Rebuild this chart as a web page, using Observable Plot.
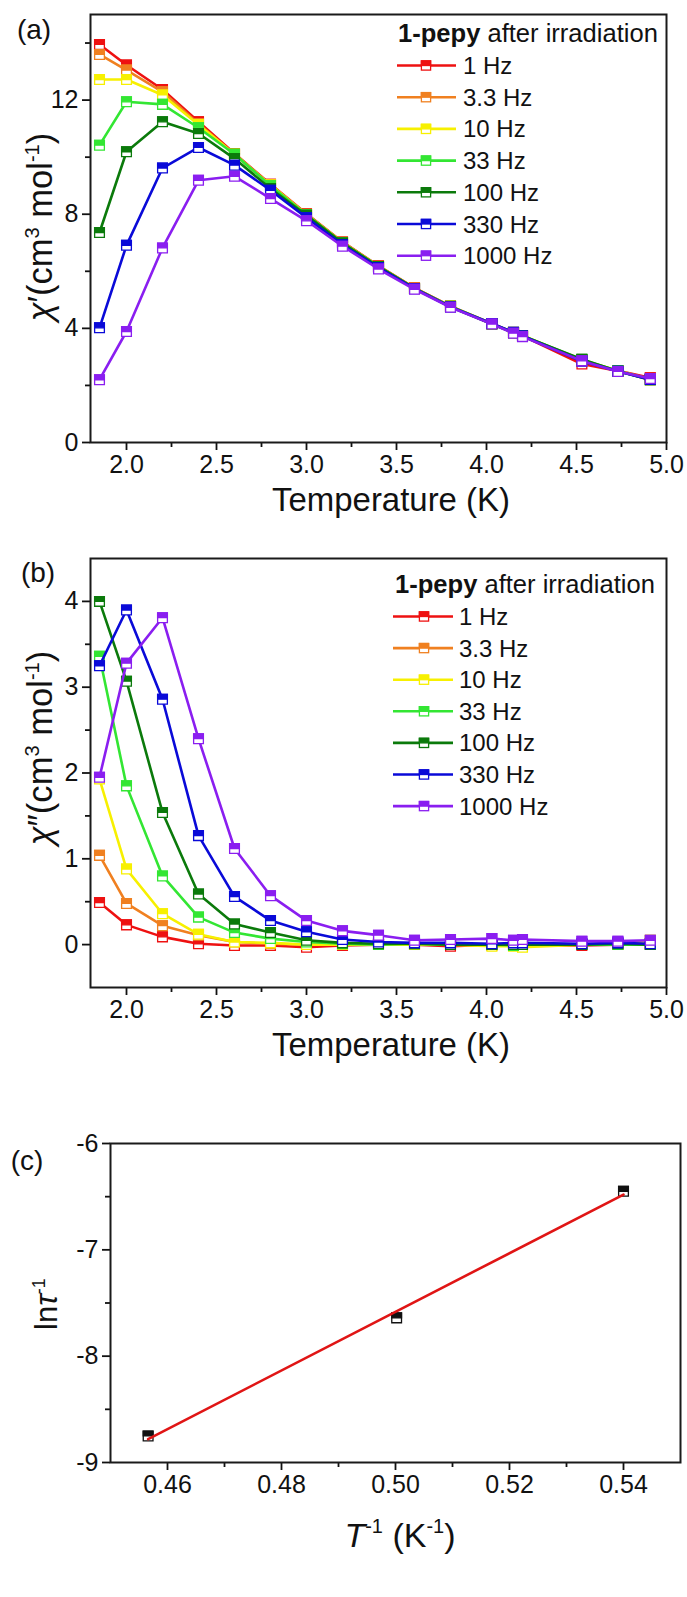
<!DOCTYPE html>
<html><head><meta charset="utf-8">
<script src="https://cdn.jsdelivr.net/npm/d3@7"></script>
<script src="https://cdn.jsdelivr.net/npm/@observablehq/plot@0.6"></script>
<style>
body{margin:0;background:#fff;}
#fig{position:relative;width:687px;height:1597px;background:#fff;overflow:hidden;}
#fig svg{position:absolute;left:0;overflow:visible;}
</style></head><body><div id="fig"></div>
<script>
// ---------------- data ----------------
const temperatures = [1.85, 2.0, 2.2, 2.4, 2.6, 2.8, 3.0, 3.2, 3.4, 3.6, 3.8, 4.03, 4.15, 4.2, 4.53, 4.73, 4.91];
const frequencies = ["1 Hz", "3.3 Hz", "10 Hz", "33 Hz", "100 Hz", "330 Hz", "1000 Hz"];
const seriesColors = ["#ee1111", "#f08020", "#f7f000", "#33e633", "#0b7a0b", "#0a0ad8", "#8a1ef0"];

// chi' (cm3 mol-1)
const chiP_1Hz    = [13.95, 13.23, 12.37, 11.24, 10.13, 9.05, 8.02, 7.03, 6.19, 5.42, 4.78, 4.16, 3.85, 3.74, 2.75, 2.51, 2.27];
const chiP_3_3Hz  = [13.60, 13.05, 12.29, 11.17, 10.10, 9.03, 8.00, 7.02, 6.18, 5.41, 4.77, 4.16, 3.85, 3.74, 2.87, 2.51, 2.22];
const chiP_10Hz   = [12.72, 12.72, 12.18, 11.14, 10.10, 9.02, 7.99, 7.01, 6.17, 5.40, 4.77, 4.16, 3.86, 3.75, 2.88, 2.52, 2.18];
const chiP_33Hz   = [10.42, 11.94, 11.85, 11.03, 10.10, 9.00, 7.98, 7.00, 6.17, 5.40, 4.77, 4.16, 3.85, 3.74, 2.90, 2.51, 2.20];
const chiP_100Hz  = [7.36, 10.19, 11.24, 10.83, 9.95, 8.90, 7.96, 6.99, 6.16, 5.40, 4.76, 4.15, 3.85, 3.73, 2.92, 2.50, 2.21];
const chiP_330Hz  = [4.02, 6.91, 9.62, 10.34, 9.72, 8.84, 7.88, 6.93, 6.13, 5.39, 4.75, 4.17, 3.86, 3.73, 2.85, 2.50, 2.20];
const chiP_1000Hz = [2.20, 3.89, 6.82, 9.19, 9.33, 8.55, 7.77, 6.88, 6.08, 5.37, 4.74, 4.15, 3.83, 3.71, 2.86, 2.49, 2.24];

// chi'' (cm3 mol-1)
const chiPP_1Hz    = [0.49, 0.23, 0.09, 0.01, -0.01, -0.01, -0.03, -0.01, 0.00, 0.00, -0.02, 0.00, -0.01, -0.01, -0.01, 0.00, 0.00];
const chiPP_3_3Hz  = [1.04, 0.48, 0.22, 0.11, 0.03, 0.01, 0.00, 0.00, 0.00, 0.00, 0.00, -0.01, 0.00, 0.00, 0.00, 0.00, 0.01];
const chiPP_10Hz   = [1.93, 0.88, 0.36, 0.12, 0.03, 0.02, 0.00, 0.00, 0.00, 0.00, 0.00, -0.02, -0.02, -0.03, 0.00, 0.00, 0.05];
const chiPP_33Hz   = [3.36, 1.85, 0.80, 0.32, 0.14, 0.07, 0.03, 0.01, 0.00, 0.01, 0.00, 0.00, -0.01, 0.00, 0.00, 0.00, 0.00];
const chiPP_100Hz  = [4.00, 3.07, 1.54, 0.59, 0.24, 0.14, 0.05, 0.02, 0.01, 0.01, 0.00, 0.00, 0.00, 0.00, 0.00, 0.01, 0.00];
const chiPP_330Hz  = [3.25, 3.90, 2.86, 1.27, 0.56, 0.28, 0.15, 0.06, 0.03, 0.02, 0.02, 0.01, 0.02, 0.02, 0.01, 0.02, 0.01];
const chiPP_1000Hz = [1.95, 3.28, 3.81, 2.40, 1.12, 0.57, 0.28, 0.16, 0.11, 0.05, 0.06, 0.07, 0.05, 0.06, 0.04, 0.04, 0.05];

// ln(tau^-1) vs 1/T
const invT = [0.4566, 0.5002, 0.5400];
const lnTauInv = [-8.75, -7.64, -6.45];
const fitInvT = [0.4566, 0.5400];
const fitLnTauInv = [-8.78, -6.48];

// ticks
const xTicksT = [2.0, 2.5, 3.0, 3.5, 4.0, 4.5, 5.0];
const xMinorT = [2.25, 2.75, 3.25, 3.75, 4.25, 4.75];
const yTicksA = [0, 4, 8, 12];
const yMinorA = [2, 6, 10, 14];
const yTicksB = [0, 1, 2, 3, 4];
const yMinorB = [0.5, 1.5, 2.5, 3.5];
const xTicksC = [0.46, 0.48, 0.50, 0.52, 0.54];
const xMinorC = [0.47, 0.49, 0.51, 0.53];
const yTicksC = [-6, -7, -8, -9];
const yMinorC = [-6.5, -7.5, -8.5];

const chiPSeries = [chiP_1Hz, chiP_3_3Hz, chiP_10Hz, chiP_33Hz, chiP_100Hz, chiP_330Hz, chiP_1000Hz];
const chiPPSeries = [chiPP_1Hz, chiPP_3_3Hz, chiPP_10Hz, chiPP_33Hz, chiPP_100Hz, chiPP_330Hz, chiPP_1000Hz];

// ---------------- helpers ----------------
const FONT = "'Liberation Sans', Arial, Helvetica, sans-serif";
const TICK_FS = 25;
const squareTopHalf = {draw(ctx, size) {
  const w = Math.sqrt(size), h = w / 2;
  ctx.moveTo(-h, -h); ctx.lineTo(h, -h); ctx.lineTo(h, 0); ctx.lineTo(-h, 0); ctx.closePath();
}};

function seriesMarks(xs, ys, color, r = 5.5) {
  const data = xs.map((x, i) => ({x, y: ys[i]}));
  return [
    Plot.line(data, {x: "x", y: "y", stroke: color, strokeWidth: 2.6}),
    Plot.dot(data, {x: "x", y: "y", symbol: "square", r, fill: "white", stroke: color, strokeWidth: 1.3}),
    Plot.dot(data, {x: "x", y: "y", symbol: squareTopHalf, r, fill: color, stroke: color, strokeWidth: 1.3})
  ];
}

function axes(o) {
  const common = {label: null, stroke: "#111", strokeWidth: 1.8, fontSize: TICK_FS, fill: "#111"};
  return [
    Plot.axisX({...common, ticks: o.xTicks, tickSize: 8, tickPadding: 5, tickFormat: o.xFmt}),
    Plot.axisX({...common, ticks: o.xMinor, tickSize: 5, tickFormat: () => ""}),
    Plot.axisY({...common, ticks: o.yTicks, tickSize: 8, tickPadding: 4, tickFormat: o.yFmt}),
    Plot.axisY({...common, ticks: o.yMinor, tickSize: 5, tickFormat: () => ""})
  ];
}

function panel(o) {
  const svg = Plot.plot({
    width: 687, height: o.height,
    marginTop: o.mt, marginBottom: o.mb, marginLeft: o.ml, marginRight: o.mr,
    x: {domain: o.xDomain}, y: {domain: o.yDomain},
    style: {fontFamily: FONT, fontSize: TICK_FS + "px", color: "#111", background: "transparent", overflow: "visible"},
    marks: [...axes(o), ...o.marks, Plot.frame({stroke: "#1a1a1a", strokeWidth: 2})]
  });
  svg.style.top = o.top + "px";
  document.getElementById("fig").appendChild(svg);
  return d3.select(svg);
}

function addText(sel, x, y, html, attrs = {}) {
  const t = sel.append("text").attr("x", x).attr("y", y)
    .attr("font-family", FONT).attr("fill", "#111").attr("text-anchor", "start");
  for (const k in attrs) t.attr(k, attrs[k]);
  t.html(html);
  return t;
}

// centred title whose overall length is fitted to the length measured on the reference
function addTitle(sel, cx, cy, html, fontSize, targetLen, rotate) {
  const t = sel.append("text").attr("x", 0).attr("y", 0)
    .attr("font-family", FONT).attr("fill", "#111").attr("text-anchor", "middle")
    .attr("font-size", fontSize).html(html);
  const w = t.node().getBBox().width;
  const k = w > 0 ? targetLen / w : 1;
  t.attr("transform", `translate(${cx},${cy})${rotate ? " rotate(-90)" : ""} scale(${k})`);
  return t;
}

function addLegend(sel, L) {
  const t = addText(sel, L.titleX, L.titleY,
    '<tspan font-weight="bold">1-pepy</tspan> after irradiation', {"font-size": 25});
  const w = t.node().getBBox().width;
  if (w > 0) t.attr("font-size", 25 * 260 / w);
  frequencies.forEach((f, i) => {
    const yb = L.rowY + i * L.step, ym = yb - 8.5, c = seriesColors[i], h = 4.6;
    sel.append("line").attr("x1", L.x1).attr("x2", L.x2).attr("y1", ym).attr("y2", ym)
      .attr("stroke", c).attr("stroke-width", 2.6);
    sel.append("rect").attr("x", L.xm - h).attr("y", ym - h).attr("width", 2 * h).attr("height", 2 * h)
      .attr("fill", "white").attr("stroke", c).attr("stroke-width", 1.3);
    sel.append("rect").attr("x", L.xm - h).attr("y", ym - h).attr("width", 2 * h).attr("height", h)
      .attr("fill", c).attr("stroke", c).attr("stroke-width", 1.3);
    addText(sel, L.tx, yb, f, {"font-size": 24});
  });
}

const chiLabel = (primes) =>
  '<tspan font-style="italic">χ</tspan>' + primes +
  '(cm<tspan dy="-12" font-size="18">3</tspan><tspan dy="12"> mol</tspan><tspan dy="-12" font-size="18">-1</tspan><tspan dy="12">)</tspan>';

// ---------------- panel (a) ----------------
const a = panel({
  top: 0, height: 530, mt: 14, mb: 88, ml: 90, mr: 21,
  xDomain: [1.8, 5.0], yDomain: [0, 15],
  xTicks: xTicksT, xMinor: xMinorT, yTicks: yTicksA, yMinor: yMinorA,
  xFmt: d3.format(".1f"), yFmt: d => String(d),
  marks: chiPSeries.flatMap((s, i) => seriesMarks(temperatures, s, seriesColors[i]))
});
addText(a, 34, 39, "(a)", {"font-size": 28, "text-anchor": "middle"});
addTitle(a, 391, 511, "Temperature (K)", 34, 238, false);
addTitle(a, 52, 227, chiLabel("′"), 31, 192, true);
addLegend(a, {titleX: 398, titleY: 42, rowY: 74, step: 31.7, x1: 397, x2: 456, xm: 426, tx: 463});

// ---------------- panel (b) ----------------
const b = panel({
  top: 530, height: 530, mt: 28, mb: 73, ml: 90, mr: 21,
  xDomain: [1.8, 5.0], yDomain: [-0.5, 4.5],
  xTicks: xTicksT, xMinor: xMinorT, yTicks: yTicksB, yMinor: yMinorB,
  xFmt: d3.format(".1f"), yFmt: d => String(d),
  marks: chiPPSeries.flatMap((s, i) => seriesMarks(temperatures, s, seriesColors[i]))
});
addText(b, 38, 52, "(b)", {"font-size": 28, "text-anchor": "middle"});
addTitle(b, 391, 526, "Temperature (K)", 34, 238, false);
addTitle(b, 52, 218, chiLabel("″"), 31, 198, true);
addLegend(b, {titleX: 395, titleY: 63, rowY: 95, step: 31.6, x1: 393, x2: 453, xm: 424, tx: 459});

// ---------------- panel (c) ----------------
const cData = invT.map((x, i) => ({x, y: lnTauInv[i]}));
const fitData = fitInvT.map((x, i) => ({x, y: fitLnTauInv[i]}));
const c = panel({
  top: 1060, height: 537, mt: 83, mb: 135, ml: 110, mr: 7,
  xDomain: [0.45, 0.55], yDomain: [-9, -6],
  xTicks: xTicksC, xMinor: xMinorC, yTicks: yTicksC, yMinor: yMinorC,
  xFmt: d3.format(".2f"), yFmt: d => String(d),
  marks: [
    Plot.dot(cData, {x: "x", y: "y", symbol: "square", r: 5.5, fill: "white", stroke: "#111", strokeWidth: 1.3}),
    Plot.dot(cData, {x: "x", y: "y", symbol: squareTopHalf, r: 5.5, fill: "#111", stroke: "#111", strokeWidth: 1.3}),
    Plot.line(fitData, {x: "x", y: "y", stroke: "#e01515", strokeWidth: 2.6})
  ]
});
addText(c, 27, 110, "(c)", {"font-size": 28, "text-anchor": "middle"});
addText(c, 400, 487,
  '<tspan font-style="italic">T</tspan><tspan dy="-14" font-size="20">-1</tspan><tspan dy="14"> (K</tspan><tspan dy="-14" font-size="20">-1</tspan><tspan dy="14">)</tspan>',
  {"font-size": 34, "text-anchor": "middle"});
addText(c, 0, 0,
  'ln<tspan font-style="italic">τ</tspan><tspan dy="-12" font-size="18">-1</tspan>',
  {"font-size": 31, "text-anchor": "middle", transform: "translate(57,244) rotate(-90)"});
</script></body></html>
